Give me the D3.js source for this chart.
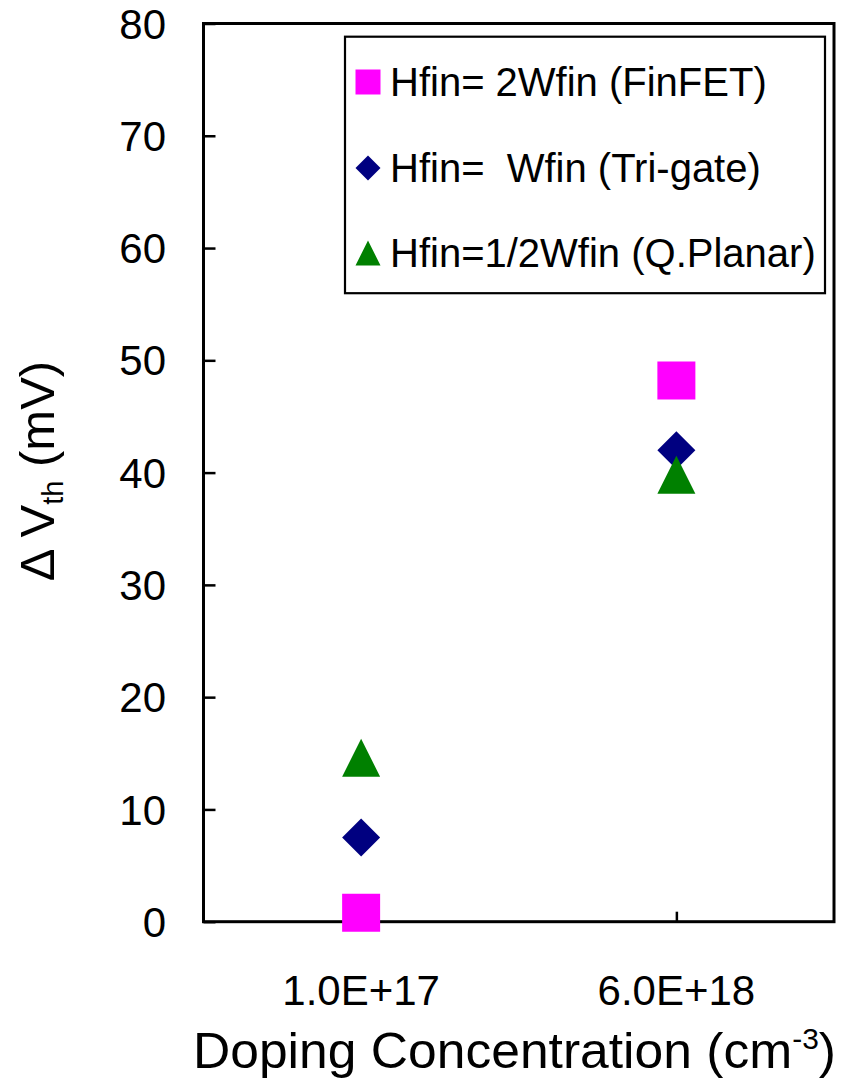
<!DOCTYPE html>
<html>
<head>
<meta charset="utf-8">
<script src="https://cdn.jsdelivr.net/npm/d3@7"></script>
<style>
  html, body { margin: 0; padding: 0; background: #fff; }
  svg { display: block; font-family: "Liberation Sans", Arial, sans-serif; }
  text { white-space: pre; }
</style>
</head>
<body>
<svg id="chart" width="843" height="1082"></svg>
<script>
// Doping concentrations on the x axis
const categories = ["1.0E+17", "6.0E+18"];

// Threshold-voltage shift (mV) per fin geometry
const finfetValues  = [0.8, 48.2];   // Hfin = 2Wfin (FinFET)
const trigateValues = [7.5, 42.0];   // Hfin = Wfin (Tri-gate)
const planarValues  = [14.6, 39.8];  // Hfin = 1/2Wfin (Q.Planar)

const yTicks = [0, 10, 20, 30, 40, 50, 60, 70, 80];

const seriesNames  = ["Hfin= 2Wfin (FinFET)", "Hfin=  Wfin (Tri-gate)", "Hfin=1/2Wfin (Q.Planar)"];
const seriesColors = ["#ff00ff", "#000080", "#008000"];
const seriesShapes = ["square", "diamond", "triangle"];
const seriesValues = [finfetValues, trigateValues, planarValues];

const svg = d3.select("#chart");

const plot = { left: 203.5, right: 834, top: 23.5, bottom: 921.7 };

const x = d3.scaleBand().domain(categories).range([plot.left, plot.right]);
const y = d3.scaleLinear().domain([0, 80]).range([plot.bottom, plot.top]);
const xCenter = d => x(d) + x.bandwidth() / 2;

// marker outlines centred on the origin, s = full box size
function markerPath(shape, s) {
  const h = s / 2;
  if (shape === "square") return `M${-h},${-h}H${h}V${h}H${-h}Z`;
  if (shape === "diamond") return `M0,${-h}L${h},0L0,${h}L${-h},0Z`;
  return `M0,${-h}L${h},${h}L${-h},${h}Z`;
}

// plot frame
svg.append("rect")
  .attr("x", plot.left).attr("y", plot.top)
  .attr("width", plot.right - plot.left).attr("height", plot.bottom - plot.top)
  .attr("fill", "none").attr("stroke", "#000").attr("stroke-width", 3);

// y axis: inward ticks, labels on the left
const yAxis = svg.append("g")
  .attr("transform", `translate(${plot.left},0)`)
  .call(d3.axisRight(y).tickValues(yTicks).tickSize(12).tickFormat(""));
yAxis.select(".domain").remove();
yAxis.selectAll(".tick line").attr("stroke", "#000").attr("stroke-width", 2.5);

svg.append("g").selectAll("text")
  .data(yTicks).join("text")
  .attr("x", 166).attr("y", d => y(d)).attr("dy", "0.36em")
  .attr("text-anchor", "end").attr("font-size", 42).attr("fill", "#000")
  .text(d => d);

// x axis: inward ticks at each category
const xPoints = d3.scalePoint().domain(categories).range([xCenter(categories[0]), xCenter(categories[1])]);
const xAxis = svg.append("g")
  .attr("transform", `translate(0,${plot.bottom})`)
  .call(d3.axisTop(xPoints).tickSize(10).tickFormat(""));
xAxis.select(".domain").remove();
xAxis.selectAll(".tick line").attr("stroke", "#000").attr("stroke-width", 2.5);

svg.append("g").selectAll("text")
  .data(categories).join("text")
  .attr("x", d => xCenter(d)).attr("y", 1005)
  .attr("text-anchor", "middle").attr("font-size", 42).attr("fill", "#000")
  .text(d => d);

// axis titles
const xTitle = svg.append("text")
  .attr("x", 193).attr("y", 1068)
  .attr("textLength", 643).attr("lengthAdjust", "spacingAndGlyphs")
  .attr("font-size", 50).attr("fill", "#000");
xTitle.append("tspan").text("Doping Concentration (cm");
xTitle.append("tspan").attr("font-size", 29).attr("dy", -19).text("-3");
xTitle.append("tspan").attr("dy", 19).text(")");

const yTitle = svg.append("text")
  .attr("transform", "translate(54,471) rotate(-90)")
  .attr("text-anchor", "middle").attr("font-size", 49).attr("fill", "#000");
yTitle.append("tspan").text("Δ V");
yTitle.append("tspan").attr("font-size", 29).attr("dy", 9).text("th");
yTitle.append("tspan").attr("dy", -9).text(" (mV)");

// data markers
seriesValues.forEach((vals, i) => {
  svg.append("g").selectAll("path")
    .data(vals).join("path")
    .attr("transform", (d, j) => `translate(${xCenter(categories[j])},${y(d)})`)
    .attr("d", markerPath(seriesShapes[i], 38))
    .attr("fill", seriesColors[i]);
});

// legend
const legend = svg.append("g");
legend.append("rect")
  .attr("x", 345).attr("y", 36.7).attr("width", 480).attr("height", 256.5)
  .attr("fill", "#fff").attr("stroke", "#000").attr("stroke-width", 2.2);

const legendRows = [82, 168, 253];
seriesNames.forEach((name, i) => {
  legend.append("path")
    .attr("transform", `translate(368,${legendRows[i]})`)
    .attr("d", markerPath(seriesShapes[i], 25))
    .attr("fill", seriesColors[i]);
  legend.append("text")
    .attr("x", 390).attr("y", legendRows[i] + 14)
    .attr("font-size", 40).attr("fill", "#000")
    .text(name);
});
</script>
</body>
</html>
